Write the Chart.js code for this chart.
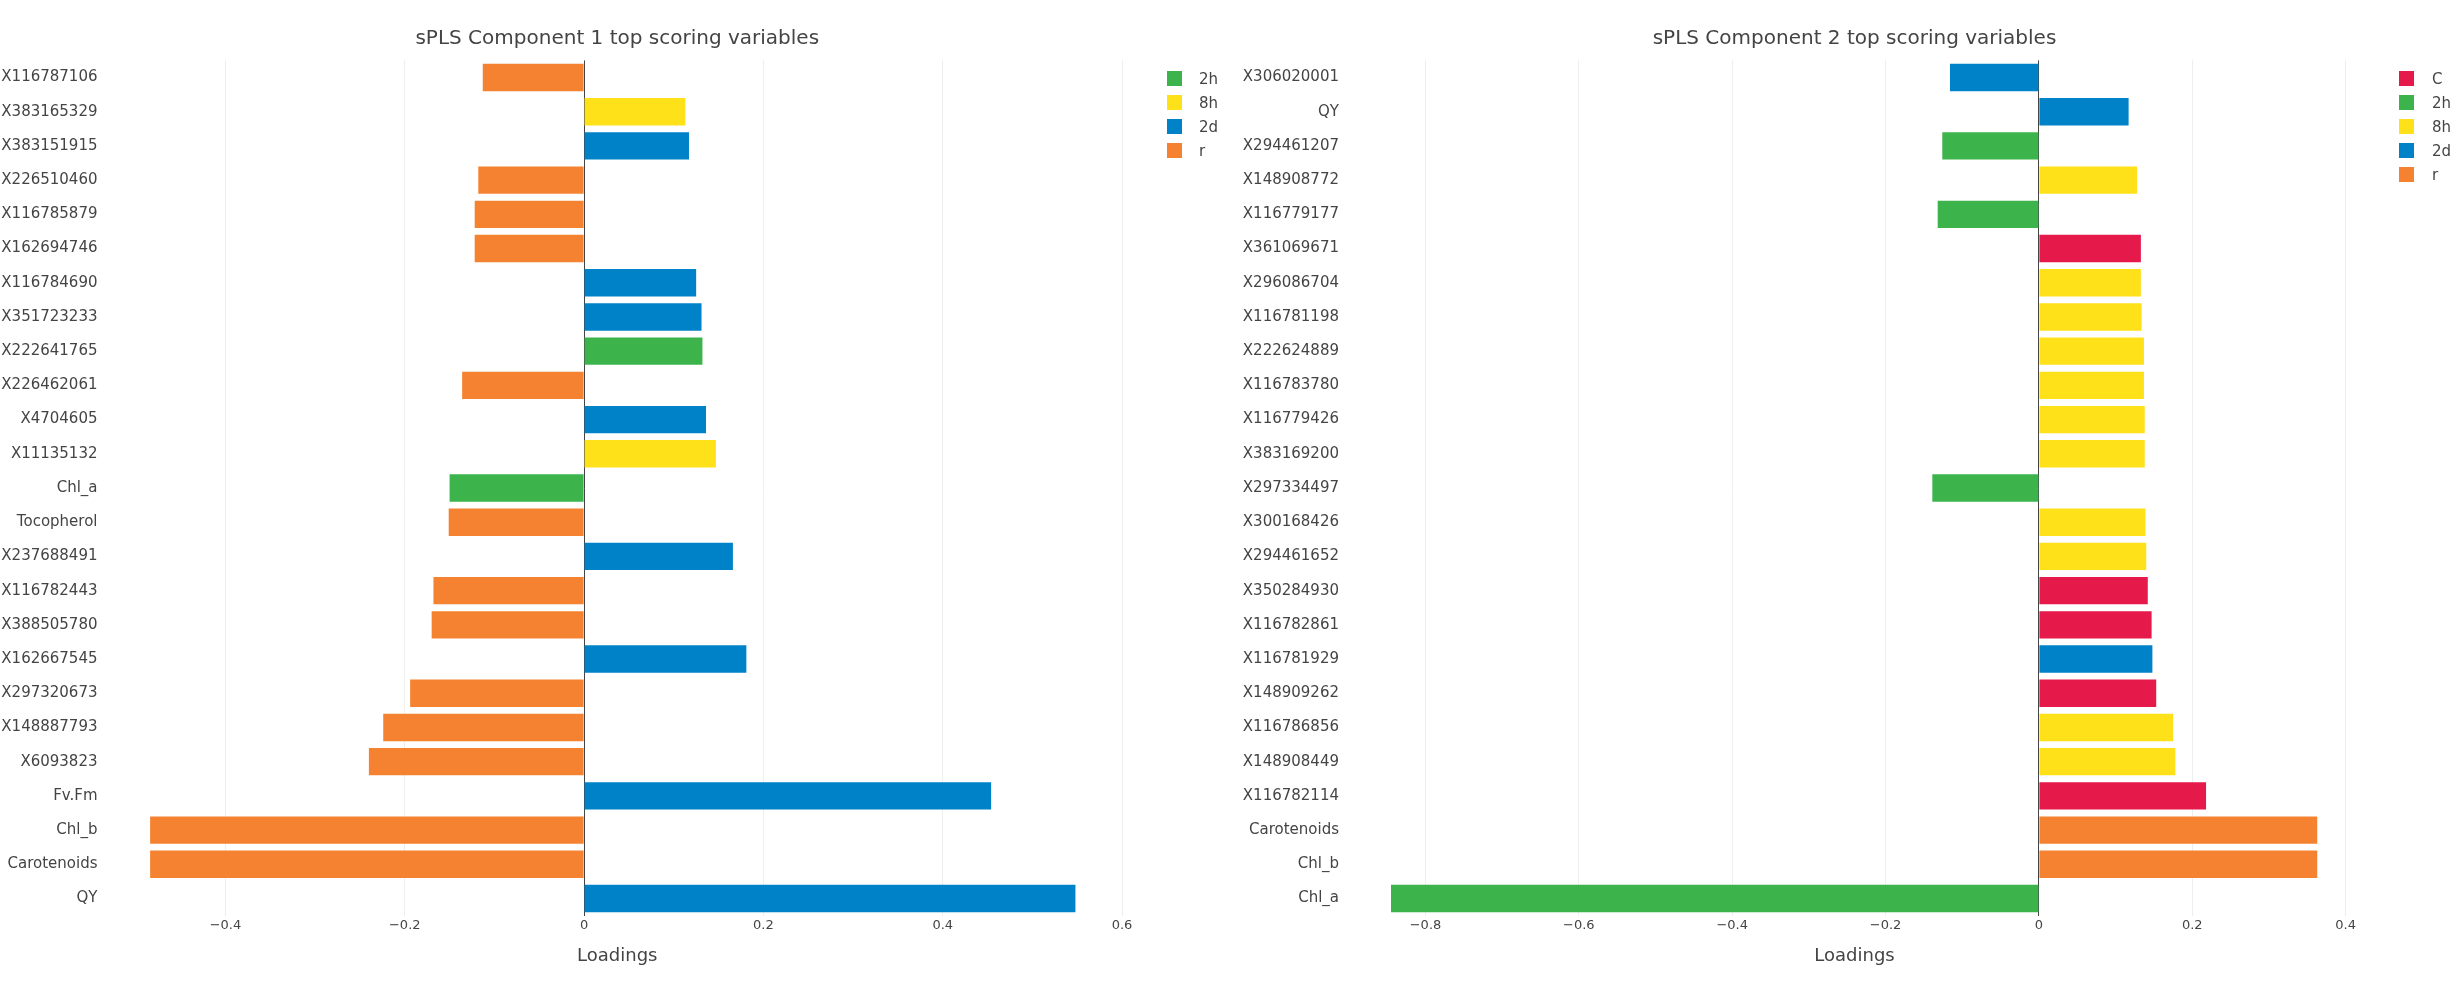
<!DOCTYPE html>
<html><head><meta charset="utf-8">
<script src="https://cdn.jsdelivr.net/npm/chart.js@4.4.0/dist/chart.umd.min.js"></script>
<style>
html,body{margin:0;padding:0;background:#fff;}
#wrap{position:relative;width:2456px;height:986px;overflow:hidden;font-family:'DejaVu Sans',sans-serif;color:#444;}
canvas{position:absolute;top:0;}
.lgt{position:absolute;font-size:15px;line-height:18px;height:18px;white-space:nowrap;color:#444;}
.sw{position:absolute;width:15px;height:15px;}
</style></head><body>
<div id="wrap">
<canvas id="c1" width="1228" height="986" style="left:0px"></canvas>
<canvas id="c2" width="1228" height="986" style="left:1228px"></canvas>
</div>
<script>
// ---- data ----
const title1 = "sPLS Component 1 top scoring variables";
const labels1 = ["X116787106","X383165329","X383151915","X226510460","X116785879","X162694746","X116784690","X351723233","X222641765","X226462061","X4704605","X11135132","Chl_a","Tocopherol","X237688491","X116782443","X388505780","X162667545","X297320673","X148887793","X6093823","Fv.Fm","Chl_b","Carotenoids","QY"];
const values1 = [-0.113,0.113,0.117,-0.118,-0.122,-0.122,0.125,0.131,0.132,-0.136,0.136,0.147,-0.150,-0.151,0.166,-0.168,-0.170,0.181,-0.194,-0.224,-0.240,0.454,-0.484,-0.484,0.548];
const groups1 = ["r","8h","2d","r","r","r","2d","2d","2h","r","2d","8h","2h","r","2d","r","r","2d","r","r","r","2d","r","r","2d"];
const legend1 = ["2h","8h","2d","r"];
const xTicks1 = [-0.4,-0.2,0,0.2,0.4,0.6];

const title2 = "sPLS Component 2 top scoring variables";
const labels2 = ["X306020001","QY","X294461207","X148908772","X116779177","X361069671","X296086704","X116781198","X222624889","X116783780","X116779426","X383169200","X297334497","X300168426","X294461652","X350284930","X116782861","X116781929","X148909262","X116786856","X148908449","X116782114","Carotenoids","Chl_b","Chl_a"];
const values2 = [-0.116,0.117,-0.126,0.128,-0.132,0.133,0.133,0.134,0.137,0.137,0.138,0.138,-0.139,0.139,0.140,0.142,0.147,0.148,0.153,0.175,0.178,0.218,0.363,0.363,-0.845];
const groups2 = ["2d","2d","2h","8h","2h","C","8h","8h","8h","8h","8h","8h","2h","8h","8h","C","C","2d","C","8h","8h","C","r","r","2h"];
const legend2 = ["C","2h","8h","2d","r"];
const xTicks2 = [-0.8,-0.6,-0.4,-0.2,0,0.2,0.4];

const axisTitle = "Loadings";
const groupColors = {"C":"#E6194B","2h":"#3CB44B","8h":"#FFE119","2d":"#0082C8","r":"#F58231"};

// ---- rendering ----
Chart.defaults.font.family = "'DejaVu Sans', sans-serif";
Chart.defaults.color = "#444";

const areaTitle = {
  id: 'areaTitle',
  afterDraw(chart, args, opts) {
    const {ctx, chartArea} = chart;
    ctx.save();
    ctx.font = "20px 'DejaVu Sans'";
    ctx.fillStyle = "#444";
    ctx.textAlign = "center";
    ctx.textBaseline = "alphabetic";
    ctx.fillText(opts.text, (chartArea.left + chartArea.right) / 2, 44);
    ctx.restore();
  }
};

function fmt(v) {
  if (Math.abs(v) < 1e-9) return "0";
  const s = Math.abs(v).toFixed(1);
  return (v < 0 ? "\u2212" : "") + s;
}

function makeChart(id, labels, values, groups, legendOrder, ticks, xmin, xmax, yWidth, padRight, titleText) {
  const datasets = legendOrder.map(g => ({
    label: g,
    data: values.map((v, i) => groups[i] === g ? v : null),
    backgroundColor: groupColors[g],
    borderWidth: 0,
    barPercentage: 0.8,
    categoryPercentage: 1.0,
    grouped: false
  }));
  return new Chart(document.getElementById(id), {
    type: 'bar',
    data: { labels: labels, datasets: datasets },
    plugins: [areaTitle],
    options: {
      indexAxis: 'y',
      responsive: false,
      animation: false,
      devicePixelRatio: 1,
      layout: { padding: { top: 60.4, right: padRight, bottom: 0, left: 0 } },
      plugins: {
        legend: { display: false },
        tooltip: { enabled: false },
        title: { display: false },
        areaTitle: { text: titleText }
      },
      scales: {
        x: {
          type: 'linear',
          min: xmin, max: xmax,
          afterBuildTicks: s => { s.ticks = ticks.map(v => ({ value: v })); },
          afterFit: s => { s.height = 70.4; },
          grid: {
            drawTicks: false,
            color: c => (c.tick && Math.abs(c.tick.value) < 1e-9) ? '#444' : '#eeeeee',
            lineWidth: 1
          },
          border: { display: false },
          ticks: { font: { size: 13 }, color: '#444', padding: 2.5, maxRotation: 0, callback: v => fmt(v) },
          title: { display: true, text: axisTitle, font: { size: 18 }, color: '#444', padding: { top: 0, bottom: 19 } }
        },
        y: {
          type: 'category',
          afterFit: s => { s.width = yWidth; },
          grid: { display: false, drawTicks: false },
          border: { display: false },
          ticks: { font: { size: 15 }, color: '#444', padding: 6, autoSkip: false }
        }
      }
    }
  });
}

makeChart('c1', labels1, values1, groups1, legend1, xTicks1, -0.536, 0.61, 103.5, 97, title1);
makeChart('c2', labels2, values2, groups2, legend2, xTicks2, -0.905, 0.424, 117, 92, title2);

function makeLegend(order, swLeft, textLeft) {
  const wrap = document.getElementById('wrap');
  order.forEach((g, i) => {
    const cy = 78.2 + 24 * i;
    const sw = document.createElement('div');
    sw.className = 'sw';
    sw.style.left = swLeft + 'px';
    sw.style.top = (cy - 7.5) + 'px';
    sw.style.background = groupColors[g];
    wrap.appendChild(sw);
    const t = document.createElement('div');
    t.className = 'lgt';
    t.style.left = textLeft + 'px';
    t.style.top = (cy - 8.4) + 'px';
    t.textContent = g;
    wrap.appendChild(t);
  });
}
makeLegend(legend1, 1167, 1199);
makeLegend(legend2, 2399, 2432);
</script>
</body></html>
